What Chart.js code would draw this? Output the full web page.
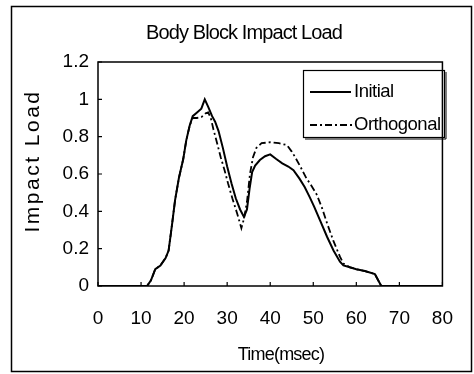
<!DOCTYPE html>
<html><head><meta charset="utf-8">
<script src="https://cdn.jsdelivr.net/npm/chart.js@4/dist/chart.umd.min.js"></script>
<style>html,body{margin:0;padding:0;background:#fff}#wrap{width:474px;height:374px}</style>
</head><body><div id="wrap"><canvas id="c" width="474" height="374"></canvas></div>
<script>
const titleText = "Body Block Impact Load";
const xTitle = "Time(msec)";
const yTitle = "Impact Load";
const seriesNames = ["Initial", "Orthogonal"];
const timeInitial = [0, 11.4, 12.3, 13.3, 14.5, 15.7, 16.4, 17.2, 17.9, 18.8, 19.8, 20.5, 21.3, 22.0, 23.0, 24.0, 24.8, 25.6, 26.5, 27.2, 28.0, 29.0, 30.0, 31.0, 32.0, 33.0, 33.9, 34.6, 35.2, 35.8, 36.5, 37.6, 38.8, 40.0, 41.4, 42.8, 44.2, 45.4, 46.8, 48.0, 49.2, 50.2, 51.6, 53.2, 54.7, 56.2, 57.0, 58.5, 60.0, 62.0, 64.3, 65.8, 80];
const loadInitial = [0, 0, 0.03, 0.09, 0.11, 0.15, 0.19, 0.33, 0.46, 0.58, 0.68, 0.78, 0.86, 0.91, 0.93, 0.95, 1.0, 0.96, 0.91, 0.88, 0.83, 0.74, 0.64, 0.55, 0.47, 0.41, 0.37, 0.41, 0.52, 0.61, 0.645, 0.675, 0.695, 0.705, 0.68, 0.657, 0.64, 0.62, 0.575, 0.53, 0.475, 0.425, 0.35, 0.264, 0.19, 0.13, 0.11, 0.10, 0.09, 0.08, 0.064, 0, 0];
const timeOrth = [0, 11.4, 12.3, 13.3, 14.5, 15.7, 16.4, 17.2, 17.9, 18.8, 19.8, 20.5, 21.3, 22.0, 23.0, 24.0, 25.0, 25.6, 26.2, 26.8, 27.5, 28.5, 29.4, 30.2, 31.2, 32.3, 33.3, 33.9, 34.6, 35.3, 36.0, 36.8, 38.0, 40.0, 42.0, 43.9, 45.0, 45.8, 47.0, 48.4, 49.5, 50.8, 52.0, 53.2, 54.7, 56.2, 57.0, 58.5, 60.0, 62.0, 64.3, 65.8, 80];
const loadOrth = [0, 0, 0.03, 0.09, 0.11, 0.15, 0.19, 0.33, 0.46, 0.58, 0.68, 0.78, 0.86, 0.90, 0.90, 0.905, 0.925, 0.93, 0.90, 0.84, 0.78, 0.69, 0.62, 0.55, 0.47, 0.39, 0.31, 0.36, 0.45, 0.60, 0.69, 0.74, 0.765, 0.77, 0.765, 0.755, 0.72, 0.69, 0.64, 0.577, 0.54, 0.49, 0.42, 0.336, 0.24, 0.157, 0.12, 0.10, 0.09, 0.08, 0.064, 0, 0];
const xTickValues = [0, 10, 20, 30, 40, 50, 60, 70, 80];
const yTickValues = [0, 0.2, 0.4, 0.6, 0.8, 1, 1.2];

const FONT = "'Liberation Sans', Arial, sans-serif";
const dashPattern = [7, 3, 2, 3];

const pts = (xs, ys) => xs.map((x, i) => ({x: x, y: ys[i]}));

const decor = {
  id: 'decor',
  afterDraw(chart) {
    const ctx = chart.ctx;
    const a = chart.chartArea;
    const xs = chart.scales.x, ys = chart.scales.y;
    ctx.save();
    ctx.strokeStyle = '#000';
    ctx.lineWidth = 1.5;
    ctx.strokeRect(11.5, 6.5, 460, 365);
    ctx.lineWidth = 1.5;
    ctx.strokeRect(a.left, a.top, a.right - a.left, a.bottom - a.top);
    ctx.lineWidth = 1.2;
    ctx.beginPath();
    yTickValues.forEach(v => {
      const y = ys.getPixelForValue(v);
      ctx.moveTo(a.left, y); ctx.lineTo(a.left + 4, y);
    });
    xTickValues.forEach(v => {
      const x = xs.getPixelForValue(v);
      ctx.moveTo(x, a.bottom); ctx.lineTo(x, a.bottom - 4);
    });
    ctx.stroke();
    ctx.fillStyle = '#000';
    ctx.textAlign = 'center';
    ctx.textBaseline = 'middle';
    ctx.font = '20px ' + FONT;
    try { ctx.letterSpacing = '-0.9px'; } catch (e) {}
    ctx.fillText(titleText, 244, 33);
    ctx.font = '18px ' + FONT;
    try { ctx.letterSpacing = '-0.8px'; } catch (e) {}
    ctx.fillText(xTitle, 281, 355);
    ctx.save();
    ctx.translate(33, 161);
    ctx.rotate(-Math.PI / 2);
    ctx.font = '21px ' + FONT;
    try { ctx.letterSpacing = '2.5px'; } catch (e) {}
    ctx.fillText(yTitle, 0, 0);
    ctx.restore();
    ctx.lineWidth = 1.2;
    ctx.strokeRect(303.5, 70.5, 141, 67);
    ctx.lineWidth = 1;
    ctx.beginPath(); ctx.moveTo(446, 72); ctx.lineTo(446, 139); ctx.lineTo(305, 139); ctx.stroke();
    ctx.lineWidth = 1.8;
    ctx.beginPath(); ctx.moveTo(310, 92); ctx.lineTo(351, 92); ctx.stroke();
    ctx.setLineDash(dashPattern);
    ctx.beginPath(); ctx.moveTo(310, 125); ctx.lineTo(352, 125); ctx.stroke();
    ctx.setLineDash([]);
    ctx.textAlign = 'left';
    ctx.font = '18.5px ' + FONT;
    try { ctx.letterSpacing = '-0.5px'; } catch (e) {}
    ctx.fillText(seriesNames[0], 354, 92);
    ctx.fillText(seriesNames[1], 354, 125);
    ctx.restore();
  }
};

new Chart(document.getElementById('c'), {
  type: 'line',
  data: {
    datasets: [
      { label: seriesNames[0], data: pts(timeInitial, loadInitial), borderColor: '#000', borderWidth: 2, pointRadius: 0, tension: 0, fill: false },
      { label: seriesNames[1], data: pts(timeOrth, loadOrth), borderColor: '#000', borderWidth: 1.8, borderDash: dashPattern, pointRadius: 0, tension: 0, fill: false }
    ]
  },
  options: {
    responsive: false,
    animation: false,
    devicePixelRatio: 1,
    layout: { padding: { left: 0, right: 17, top: 62, bottom: 0 } },
    plugins: { legend: { display: false }, title: { display: false }, tooltip: { enabled: false } },
    scales: {
      x: {
        type: 'linear', min: 0, max: 80,
        afterBuildTicks: s => { s.ticks = xTickValues.map(v => ({value: v})); },
        afterFit: s => { s.height = 88; },
        grid: { display: false, drawTicks: false },
        border: { display: false },
        ticks: { color: '#000', font: { family: FONT, size: 19 }, padding: 21, maxRotation: 0, autoSkip: false }
      },
      y: {
        type: 'linear', min: 0, max: 1.2,
        afterBuildTicks: s => { s.ticks = yTickValues.map(v => ({value: v})); },
        afterFit: s => { s.width = 98; },
        grid: { display: false, drawTicks: false },
        border: { display: false },
        ticks: { color: '#000', font: { family: FONT, size: 19 }, padding: 9, callback: v => String(v) }
      }
    }
  },
  plugins: [decor]
});
</script>
</body></html>
